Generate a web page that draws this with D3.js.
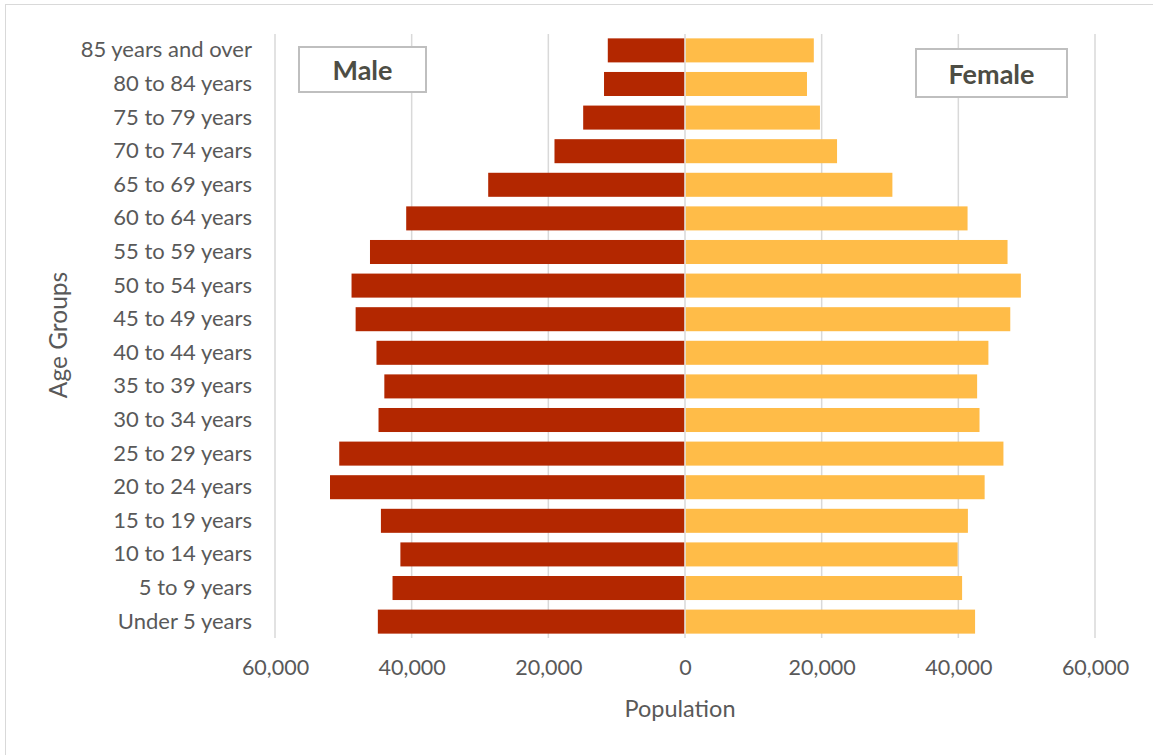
<!DOCTYPE html>
<html>
<head>
<meta charset="utf-8">
<script src="https://cdn.jsdelivr.net/npm/d3@7"></script>
<style>
  html, body { margin: 0; padding: 0; background: #fff; }
  svg { display: block; }
  text { font-family: Lato, "Open Sans", sans-serif; }
</style>
</head>
<body>
<svg id="chart" width="1153" height="755"></svg>
<script>
const categories = [
  "85 years and over", "80 to 84 years", "75 to 79 years", "70 to 74 years",
  "65 to 69 years", "60 to 64 years", "55 to 59 years", "50 to 54 years",
  "45 to 49 years", "40 to 44 years", "35 to 39 years", "30 to 34 years",
  "25 to 29 years", "20 to 24 years", "15 to 19 years", "10 to 14 years",
  "5 to 9 years", "Under 5 years"
];
const male = [
  11300, 11850, 14900, 19100, 28800, 40800, 46100, 48800,
  48200, 45150, 44000, 44850, 50600, 51950, 44500, 41650,
  42800, 44950
];
const female = [
  18850, 17850, 19750, 22250, 30350, 41350, 47200, 49150,
  47600, 44400, 42750, 43100, 46600, 43850, 41400, 39900,
  40550, 42450
];
const xTicks = [-60000, -40000, -20000, 0, 20000, 40000, 60000];
const seriesNames = ["Male", "Female"];

const svg = d3.select("#chart");

// outer chart border
svg.append("rect")
  .attr("x", 5.5).attr("y", 4.5)
  .attr("width", 1160).attr("height", 760)
  .attr("fill", "none").attr("stroke", "#d9d9d9").attr("stroke-width", 1);

const x = d3.scaleLinear().domain([-60000, 60000]).range([275, 1095]);
const y = d3.scaleBand().domain(categories).range([34, 638])
  .paddingInner(0.285).paddingOuter(0.13);

// gridlines
svg.append("g").selectAll("line").data(xTicks).join("line")
  .attr("x1", d => x(d)).attr("x2", d => x(d))
  .attr("y1", 34).attr("y2", 638)
  .attr("stroke", "#d9d9d9").attr("stroke-width", 1.5);

// male bars
svg.append("g").selectAll("rect").data(categories).join("rect")
  .attr("x", (d, i) => x(-male[i]))
  .attr("y", d => y(d))
  .attr("width", (d, i) => x(0) - 0.8 - x(-male[i]))
  .attr("height", y.bandwidth())
  .attr("fill", "#b32700");

// female bars
svg.append("g").selectAll("rect").data(categories).join("rect")
  .attr("x", x(0) + 0.8)
  .attr("y", d => y(d))
  .attr("width", (d, i) => x(female[i]) - x(0) - 0.8)
  .attr("height", y.bandwidth())
  .attr("fill", "#ffbc48");

// y axis labels
const yAxis = svg.append("g")
  .attr("transform", "translate(255,0)")
  .call(d3.axisLeft(y).tickSize(0).tickPadding(3));
yAxis.select(".domain").remove();
yAxis.selectAll("text")
  .attr("fill", "#595959").style("font-size", "22px")
  .style("font-family", "Lato, 'Open Sans', sans-serif");

// x axis labels
const xAxis = svg.append("g")
  .attr("transform", "translate(0,657)")
  .call(d3.axisBottom(x).tickValues(xTicks).tickSize(0)
    .tickFormat(d => d3.format(",")(Math.abs(d))));
xAxis.select(".domain").remove();
xAxis.selectAll("text")
  .attr("fill", "#595959").style("font-size", "21.5px")
  .style("font-family", "Lato, 'Open Sans', sans-serif");

// axis titles
svg.append("text")
  .attr("x", 680).attr("y", 708)
  .attr("text-anchor", "middle").attr("dominant-baseline", "central")
  .attr("fill", "#595959").style("font-size", "23.5px")
  .text("Population");

svg.append("text")
  .attr("transform", "translate(57,335) rotate(-90)")
  .attr("text-anchor", "middle").attr("dominant-baseline", "central")
  .attr("fill", "#595959").style("font-size", "24.5px")
  .text("Age Groups");

// series label boxes
const boxes = [
  { name: seriesNames[0], x0: 299, x1: 426, y0: 47, y1: 92 },
  { name: seriesNames[1], x0: 916, x1: 1067, y0: 49, y1: 97 }
];
const bg = svg.append("g").selectAll("g").data(boxes).join("g");
bg.append("rect")
  .attr("x", d => d.x0).attr("y", d => d.y0)
  .attr("width", d => d.x1 - d.x0).attr("height", d => d.y1 - d.y0)
  .attr("fill", "#fff").attr("stroke", "#bfbfbf").attr("stroke-width", 2);
bg.append("text")
  .attr("x", d => (d.x0 + d.x1) / 2).attr("y", d => (d.y0 + d.y1) / 2)
  .attr("text-anchor", "middle").attr("dominant-baseline", "central")
  .attr("fill", "#4d4d44").style("font-size", "27px").style("font-weight", "bold")
  .text(d => d.name);
</script>
</body>
</html>
